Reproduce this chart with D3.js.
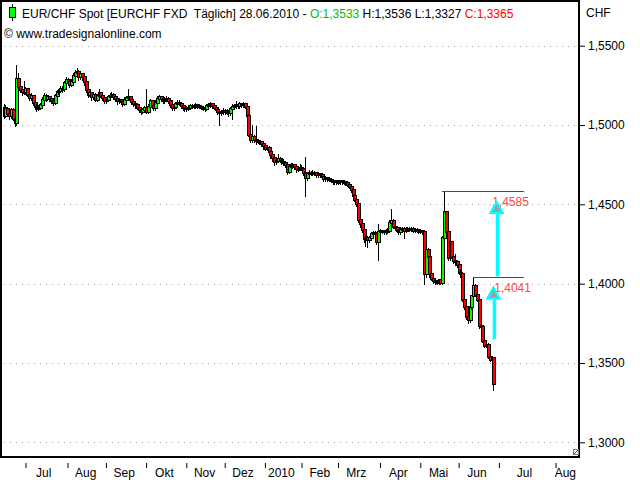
<!DOCTYPE html>
<html><head><meta charset="utf-8">
<script src="https://cdn.jsdelivr.net/npm/d3@7"></script>
<style>
body{margin:0;background:#fff}
svg{display:block}
text{font-family:Arial,"Liberation Sans",sans-serif;white-space:pre}
</style>
</head><body>
<svg id="chart" width="640" height="480"></svg>
<script>
// ---------- DATA ----------
const firstDay = "2009-06-15";
const lastDay = "2010-06-28";
const holidays = ["2009-12-25", "2010-01-01"];

const openP = [
1.5110,1.5060,1.5100,1.5070,1.5055,1.5095,1.5040,1.5010,1.5290,1.5240,
1.5220,1.5205,1.5210,1.5225,1.5190,1.5170,1.5180,1.5140,1.5115,1.5105,
1.5110,1.5125,1.5160,1.5185,1.5165,1.5175,1.5165,1.5150,1.5140,1.5185,
1.5205,1.5215,1.5230,1.5225,1.5265,1.5285,1.5270,1.5255,1.5270,1.5310,
1.5330,1.5335,1.5300,1.5320,1.5300,1.5270,1.5220,1.5190,1.5200,1.5175,
1.5190,1.5160,1.5185,1.5200,1.5185,1.5170,1.5150,1.5160,1.5175,1.5185,
1.5190,1.5175,1.5165,1.5150,1.5155,1.5145,1.5135,1.5160,1.5170,1.5175,
1.5155,1.5145,1.5135,1.5125,1.5110,1.5095,1.5085,1.5095,1.5105,1.5085,
1.5115,1.5150,1.5120,1.5105,1.5140,1.5165,1.5175,1.5165,1.5150,1.5160,
1.5165,1.5150,1.5125,1.5105,1.5115,1.5130,1.5140,1.5135,1.5120,1.5105,
1.5100,1.5105,1.5110,1.5120,1.5115,1.5120,1.5125,1.5120,1.5115,1.5110,
1.5105,1.5100,1.5120,1.5125,1.5130,1.5120,1.5110,1.5095,1.5085,1.5075,
1.5080,1.5090,1.5080,1.5085,1.5075,1.5100,1.5115,1.5120,1.5125,1.5120,
1.5130,1.5125,1.5130,1.5115,1.5060,1.4940,1.4905,1.4925,1.4905,1.4900,
1.4895,1.4890,1.4880,1.4865,1.4850,1.4855,1.4830,1.4810,1.4790,1.4765,
1.4775,1.4785,1.4775,1.4770,1.4760,1.4745,1.4705,1.4735,1.4745,1.4745,
1.4735,1.4720,1.4725,1.4730,1.4725,1.4700,1.4665,1.4690,1.4700,1.4695,
1.4700,1.4695,1.4685,1.4690,1.4685,1.4670,1.4660,1.4665,1.4660,1.4655,
1.4650,1.4640,1.4645,1.4640,1.4640,1.4645,1.4640,1.4640,1.4635,1.4625,
1.4610,1.4590,1.4555,1.4530,1.4500,1.4400,1.4375,1.4340,1.4280,1.4290,
1.4275,1.4285,1.4310,1.4320,1.4310,1.4260,1.4325,1.4330,1.4330,1.4325,
1.4330,1.4335,1.4385,1.4395,1.4360,1.4350,1.4335,1.4325,1.4340,1.4345,
1.4335,1.4340,1.4345,1.4340,1.4345,1.4335,1.4340,1.4335,1.4330,1.4330,
1.4325,1.4060,1.4210,1.4165,1.4060,1.4030,1.4015,1.4010,1.4012,1.4020,
1.4005,1.4290,1.4450,1.4328,1.4160,1.4260,1.4170,1.4140,1.4135,1.4120,
1.4070,1.4060,1.3900,1.3850,1.3790,1.3770,1.3850,1.3920,1.3985,1.3930,
1.3900,1.3730,1.3725,1.3640,1.3610,1.3615,1.3540,1.3520,1.3533];

const highP = [
1.5130,1.5125,1.5115,1.5090,1.5110,1.5105,1.5055,1.5376,1.5330,1.5265,
1.5240,1.5280,1.5240,1.5235,1.5205,1.5200,1.5190,1.5155,1.5130,1.5125,
1.5140,1.5175,1.5200,1.5195,1.5190,1.5185,1.5180,1.5170,1.5195,1.5220,
1.5230,1.5245,1.5245,1.5280,1.5300,1.5295,1.5285,1.5290,1.5325,1.5345,
1.5360,1.5345,1.5335,1.5330,1.5310,1.5280,1.5235,1.5215,1.5210,1.5205,
1.5200,1.5195,1.5225,1.5210,1.5195,1.5180,1.5175,1.5190,1.5200,1.5210,
1.5200,1.5185,1.5175,1.5170,1.5165,1.5155,1.5175,1.5185,1.5225,1.5185,
1.5165,1.5155,1.5145,1.5135,1.5120,1.5105,1.5110,1.5120,1.5225,1.5130,
1.5165,1.5160,1.5135,1.5155,1.5180,1.5190,1.5185,1.5175,1.5175,1.5180,
1.5175,1.5160,1.5135,1.5130,1.5145,1.5155,1.5160,1.5145,1.5130,1.5115,
1.5120,1.5125,1.5135,1.5130,1.5135,1.5140,1.5135,1.5130,1.5125,1.5120,
1.5115,1.5135,1.5140,1.5145,1.5140,1.5130,1.5120,1.5105,1.5095,1.5095,
1.5105,1.5100,1.5100,1.5095,1.5115,1.5130,1.5135,1.5150,1.5140,1.5145,
1.5140,1.5145,1.5140,1.5125,1.5070,1.4955,1.5000,1.4940,1.4995,1.4915,
1.4905,1.4900,1.4890,1.4875,1.4870,1.4865,1.4840,1.4820,1.4800,1.4790,
1.4815,1.4800,1.4790,1.4785,1.4775,1.4755,1.4750,1.4760,1.4760,1.4755,
1.4745,1.4740,1.4755,1.4745,1.4735,1.4800,1.4705,1.4715,1.4710,1.4715,
1.4710,1.4705,1.4700,1.4700,1.4695,1.4680,1.4675,1.4675,1.4670,1.4665,
1.4660,1.4655,1.4655,1.4655,1.4655,1.4655,1.4650,1.4650,1.4645,1.4635,
1.4620,1.4600,1.4565,1.4540,1.4510,1.4410,1.4385,1.4350,1.4305,1.4300,
1.4300,1.4325,1.4335,1.4330,1.4320,1.4375,1.4345,1.4340,1.4340,1.4345,
1.4350,1.4400,1.4468,1.4405,1.4370,1.4360,1.4345,1.4355,1.4360,1.4355,
1.4355,1.4360,1.4355,1.4355,1.4355,1.4350,1.4350,1.4345,1.4345,1.4340,
1.4335,1.4225,1.4225,1.4175,1.4070,1.4040,1.4025,1.4025,1.4030,1.4030,
1.4300,1.4585,1.4460,1.4340,1.4275,1.4270,1.4210,1.4185,1.4150,1.4135,
1.4095,1.4070,1.3910,1.3860,1.3830,1.3860,1.3930,1.4041,1.3995,1.3945,
1.3910,1.3750,1.3735,1.3650,1.3630,1.3625,1.3570,1.3545,1.3536];

const lowP = [
1.5045,1.5050,1.5060,1.5040,1.5045,1.5030,1.4995,1.5000,1.5225,1.5205,
1.5190,1.5195,1.5195,1.5180,1.5160,1.5155,1.5125,1.5100,1.5090,1.5095,
1.5100,1.5115,1.5150,1.5150,1.5155,1.5150,1.5140,1.5125,1.5130,1.5175,
1.5195,1.5205,1.5210,1.5215,1.5255,1.5255,1.5240,1.5245,1.5260,1.5300,
1.5315,1.5285,1.5290,1.5285,1.5255,1.5205,1.5175,1.5180,1.5160,1.5165,
1.5150,1.5150,1.5175,1.5175,1.5155,1.5140,1.5140,1.5150,1.5165,1.5175,
1.5165,1.5150,1.5135,1.5140,1.5130,1.5120,1.5125,1.5150,1.5160,1.5145,
1.5135,1.5120,1.5110,1.5100,1.5080,1.5070,1.5075,1.5085,1.5075,1.5075,
1.5105,1.5110,1.5095,1.5095,1.5130,1.5155,1.5150,1.5140,1.5140,1.5150,
1.5140,1.5115,1.5095,1.5095,1.5105,1.5120,1.5125,1.5110,1.5095,1.5090,
1.5090,1.5095,1.5100,1.5105,1.5105,1.5110,1.5110,1.5105,1.5100,1.5095,
1.5090,1.5095,1.5110,1.5115,1.5110,1.5100,1.5085,1.5070,1.5000,1.5065,
1.5070,1.5070,1.5070,1.5060,1.5065,1.5040,1.5105,1.5110,1.5110,1.5110,
1.5115,1.5115,1.5105,1.5050,1.4930,1.4895,1.4895,1.4895,1.4880,1.4885,
1.4880,1.4865,1.4850,1.4840,1.4840,1.4820,1.4795,1.4775,1.4750,1.4755,
1.4765,1.4765,1.4755,1.4745,1.4735,1.4690,1.4695,1.4725,1.4730,1.4720,
1.4705,1.4710,1.4715,1.4715,1.4685,1.4550,1.4655,1.4680,1.4685,1.4685,
1.4685,1.4675,1.4675,1.4675,1.4660,1.4650,1.4650,1.4650,1.4645,1.4640,
1.4630,1.4630,1.4630,1.4630,1.4630,1.4630,1.4630,1.4625,1.4615,1.4600,
1.4580,1.4545,1.4520,1.4490,1.4390,1.4360,1.4325,1.4265,1.4240,1.4229,
1.4265,1.4275,1.4300,1.4300,1.4250,1.4150,1.4315,1.4320,1.4315,1.4315,
1.4320,1.4325,1.4375,1.4350,1.4340,1.4325,1.4315,1.4315,1.4330,1.4290,
1.4325,1.4330,1.4330,1.4330,1.4325,1.4325,1.4325,1.4320,1.4320,1.4315,
1.4000,1.4045,1.4150,1.4045,1.4020,1.4005,1.4000,1.4000,1.4000,1.3995,
1.3995,1.4280,1.4315,1.4150,1.4150,1.4160,1.4130,1.4120,1.4105,1.4060,
1.4045,1.3890,1.3840,1.3780,1.3750,1.3760,1.3840,1.3910,1.3920,1.3890,
1.3720,1.3710,1.3630,1.3600,1.3600,1.3530,1.3510,1.3505,1.3327];

const closeP = [
1.5060,1.5100,1.5070,1.5055,1.5095,1.5040,1.5010,1.5290,1.5240,1.5220,
1.5205,1.5210,1.5225,1.5190,1.5170,1.5180,1.5140,1.5115,1.5105,1.5110,
1.5125,1.5160,1.5185,1.5165,1.5175,1.5165,1.5150,1.5140,1.5185,1.5205,
1.5215,1.5230,1.5225,1.5265,1.5285,1.5270,1.5255,1.5270,1.5310,1.5330,
1.5335,1.5300,1.5320,1.5300,1.5270,1.5220,1.5190,1.5200,1.5175,1.5190,
1.5160,1.5185,1.5200,1.5185,1.5170,1.5150,1.5160,1.5175,1.5185,1.5190,
1.5175,1.5165,1.5150,1.5155,1.5145,1.5135,1.5160,1.5170,1.5175,1.5155,
1.5145,1.5135,1.5125,1.5110,1.5095,1.5085,1.5095,1.5105,1.5085,1.5115,
1.5150,1.5120,1.5105,1.5140,1.5165,1.5175,1.5165,1.5150,1.5160,1.5165,
1.5150,1.5125,1.5105,1.5115,1.5130,1.5140,1.5135,1.5120,1.5105,1.5100,
1.5105,1.5110,1.5120,1.5115,1.5120,1.5125,1.5120,1.5115,1.5110,1.5105,
1.5100,1.5120,1.5125,1.5130,1.5120,1.5110,1.5095,1.5085,1.5075,1.5080,
1.5090,1.5080,1.5085,1.5075,1.5100,1.5115,1.5120,1.5125,1.5120,1.5130,
1.5125,1.5130,1.5115,1.5060,1.4940,1.4905,1.4925,1.4905,1.4900,1.4895,
1.4890,1.4880,1.4865,1.4850,1.4855,1.4830,1.4810,1.4790,1.4765,1.4775,
1.4785,1.4775,1.4770,1.4760,1.4745,1.4705,1.4735,1.4745,1.4745,1.4735,
1.4720,1.4725,1.4730,1.4725,1.4700,1.4665,1.4690,1.4700,1.4695,1.4700,
1.4695,1.4685,1.4690,1.4685,1.4670,1.4660,1.4665,1.4660,1.4655,1.4650,
1.4640,1.4645,1.4640,1.4640,1.4645,1.4640,1.4640,1.4635,1.4625,1.4610,
1.4590,1.4555,1.4530,1.4500,1.4400,1.4375,1.4340,1.4280,1.4290,1.4275,
1.4285,1.4310,1.4320,1.4310,1.4260,1.4325,1.4330,1.4330,1.4325,1.4330,
1.4335,1.4385,1.4395,1.4360,1.4350,1.4335,1.4325,1.4340,1.4345,1.4335,
1.4340,1.4345,1.4340,1.4345,1.4335,1.4340,1.4335,1.4330,1.4330,1.4325,
1.4060,1.4210,1.4165,1.4060,1.4030,1.4015,1.4010,1.4012,1.4020,1.4005,
1.4290,1.4450,1.4328,1.4160,1.4260,1.4170,1.4140,1.4135,1.4120,1.4070,
1.4060,1.3900,1.3850,1.3790,1.3770,1.3850,1.3920,1.3985,1.3930,1.3900,
1.3730,1.3725,1.3640,1.3610,1.3615,1.3540,1.3520,1.3533,1.3365];

const monthStarts = ["2009-07-01","2009-08-01","2009-09-01","2009-10-01","2009-11-01","2009-12-01",
  "2010-01-01","2010-02-01","2010-03-01","2010-04-01","2010-05-01","2010-06-01","2010-07-01","2010-08-01"];
const monthLabels = ["Jul","Aug","Sep","Okt","Nov","Dez","2010","Feb","Mrz","Apr","Mai","Jun","Jul","Aug"];
const yTicks = [1.30, 1.35, 1.40, 1.45, 1.50, 1.55];
const axisEnd = "2010-08-13";

// horizontal level lines (value, start date, end date)
const levelValues = [1.4585, 1.4041];
const levelStart = ["2010-05-19", "2010-06-11"];
const levelEnd = "2010-07-15";
// arrows (date, from value, to value)
const arrowDates = ["2010-06-30", "2010-06-28"];
const arrowFrom = [1.4046, 1.3649];
const arrowTo = [1.4527, 1.3989];

// ---------- SETUP ----------
const svg = d3.select("#chart");
const parse = d3.utcParse("%Y-%m-%d");
const fmtDay = d3.utcFormat("%Y-%m-%d");
const holidaySet = new Set(holidays);
const tradingDays = d3.utcDay.range(parse(firstDay), d3.utcDay.offset(parse(lastDay), 1))
  .filter(d => d.getUTCDay() !== 0 && d.getUTCDay() !== 6 && !holidaySet.has(fmtDay(d)));
const n = Math.min(tradingDays.length, closeP.length);
const lastIdx = n - 1;
const lastDate = tradingDays[lastIdx];
function slotOf(s) {
  const d = typeof s === "string" ? parse(s) : s;
  if (d <= lastDate) return d3.bisectLeft(tradingDays, d);
  return lastIdx + d3.utcDay.count(lastDate, d);
}

const PL = 1, PR = 578, PT = 1, PB = 457;
const x = d3.scaleLinear().domain([-1.4, slotOf(axisEnd) + 0.3]).range([PL, PR]);
const y = d3.scaleLinear().domain([1.30, 1.55]).range([442.3, 45.7]);
const fmtNum = v => d3.format(".4f")(v).replace(".", ",");

// grid (dotted)
svg.append("g").selectAll("line").data(yTicks).join("line")
  .attr("x1", PL + 3).attr("x2", PR)
  .attr("y1", d => Math.round(y(d)) + 0.5).attr("y2", d => Math.round(y(d)) + 0.5)
  .attr("stroke", "#a8a8a8").attr("stroke-dasharray", "1,5");

// candles
const clipId = "plotclip";
svg.append("clipPath").attr("id", clipId).append("rect")
  .attr("x", PL).attr("y", PT).attr("width", PR - PL).attr("height", PB - PT);
const cg = svg.append("g").attr("clip-path", `url(#${clipId})`).attr("shape-rendering", "crispEdges");
const candles = d3.range(n).map(i => ({i, o: openP[i], h: highP[i], l: lowP[i], c: closeP[i]}));
candles.forEach(d => {
  const cx = Math.round(x(d.i));
  const g = cg.append("g");
  g.append("line").attr("x1", cx + 0.5).attr("x2", cx + 0.5)
    .attr("y1", Math.round(y(d.h))).attr("y2", Math.round(y(d.l)) + 1)
    .attr("stroke", "#000").attr("stroke-width", 1);
  const top = Math.round(y(Math.max(d.o, d.c)));
  const bot = Math.round(y(Math.min(d.o, d.c)));
  const hgt = Math.max(1, bot - top);
  g.append("rect").attr("x", cx - 1).attr("y", top - 1).attr("width", 4).attr("height", hgt + 2).attr("fill", "#000");
  if (hgt > 1) {
    g.append("rect").attr("x", cx).attr("y", top).attr("width", 2).attr("height", hgt)
      .attr("fill", d.c >= d.o ? "#00ff00" : "#ff0000");
  }
});

// level lines (drawn as 1px-tall red rects)
const lvG = svg.append("g").attr("shape-rendering", "crispEdges");
levelValues.forEach((v, k) => {
  const xa = Math.round(x(slotOf(levelStart[k]))), xb = Math.round(x(slotOf(levelEnd)));
  lvG.append("rect")
    .attr("x", xa).attr("y", Math.round(y(v))).attr("width", xb - xa).attr("height", 1)
    .attr("fill", "#ff0000");
  svg.append("text").attr("x", x(slotOf(levelStart[k])) + (k === 0 ? 50 : 21)).attr("y", y(v) + 15)
    .attr("font-size", 12).attr("fill", "#ff4848").text(fmtNum(v));
});

// arrows
arrowDates.forEach((dt, k) => {
  const ax = x(slotOf(dt)) + (k === 0 ? -0.5 : 0);
  const yTip = y(arrowTo[k]), yBase = y(arrowFrom[k]);
  const hh = 14, hw = 8;
  svg.append("line").attr("x1", ax + 1).attr("x2", ax + 1).attr("y1", yBase).attr("y2", yTip + hh)
    .attr("stroke", "#00ffff").attr("stroke-width", 3.5);
  svg.append("path").attr("d", `M${ax},${yTip} L${ax + hw},${yTip + hh} L${ax - hw},${yTip + hh} Z`)
    .attr("fill", "#00ffff");
  svg.append("path").attr("d", `M${ax},${yTip + 4} L${ax + hw - 4},${yTip + hh - 2} L${ax - hw + 4},${yTip + hh - 2} Z`)
    .attr("fill", "#a0a0a0");
});

// frame
svg.append("rect").attr("x", PL).attr("y", PT).attr("width", 579 - PL).attr("height", PB - PT)
  .attr("fill", "none").attr("stroke", "#000").attr("stroke-width", 2);

// corner glyph
svg.append("rect").attr("x", 573.5).attr("y", 449.5).attr("width", 5).attr("height", 5)
  .attr("fill", "#fff").attr("stroke", "#808080");
svg.append("line").attr("x1", 574).attr("y1", 454).attr("x2", 578).attr("y2", 450).attr("stroke", "#404040");

// y axis (right)
const yAxis = svg.append("g").attr("transform", "translate(580,0)")
  .call(d3.axisRight(y).tickValues(yTicks).tickSize(5).tickPadding(3).tickFormat(fmtNum));
yAxis.select(".domain").remove();
yAxis.selectAll("text").attr("font-size", 12).attr("font-family", "Arial, 'Liberation Sans', sans-serif").attr("fill", "#000");
yAxis.selectAll("line").attr("stroke", "#000");
svg.append("text").attr("x", 586).attr("y", 17).attr("font-size", 12).attr("fill", "#000").text("CHF");

// x axis
const monthSlots = monthStarts.map(slotOf);
const xAxis = svg.append("g").attr("transform", "translate(0,463)")
  .call(d3.axisBottom(x).tickValues(monthSlots).tickSize(5).tickFormat(""));
xAxis.select(".domain").remove();
xAxis.selectAll("line").attr("stroke", "#000");
const labelG = svg.append("g");
monthStarts.forEach((m, k) => {
  const mid = d3.utcDay.offset(parse(m), 14);
  let cx = x(slotOf(mid));
  const t = labelG.append("text").attr("y", 477).attr("font-size", 12).attr("fill", "#000")
    .attr("text-anchor", "middle").text(monthLabels[k]);
  const w = t.node().getComputedTextLength();
  cx = Math.min(cx, 576 - w / 2);
  t.attr("x", cx);
});

// title
const L = lastIdx;
svg.append("line").attr("x1", 12.5).attr("x2", 12.5).attr("y1", 4).attr("y2", 21).attr("stroke", "#000");
svg.append("rect").attr("x", 9.5).attr("y", 7.5).attr("width", 6).attr("height", 10)
  .attr("fill", "#00ff00").attr("stroke", "#000");
const title = svg.append("text").attr("x", 22).attr("y", 18).attr("font-size", 12).attr("fill", "#000");
title.append("tspan").text("EUR/CHF Spot [EURCHF FXD  Täglich] 28.06.2010 - ");
title.append("tspan").attr("fill", "#00c000").text("O:" + fmtNum(openP[L]));
title.append("tspan").text(" H:" + fmtNum(highP[L]) + " L:" + fmtNum(lowP[L]) + " ");
title.append("tspan").attr("fill", "#ff0000").text("C:" + fmtNum(closeP[L]));
svg.append("text").attr("x", 4).attr("y", 38).attr("font-size", 12).attr("fill", "#000")
  .text("© www.tradesignalonline.com");
</script>
</body></html>
